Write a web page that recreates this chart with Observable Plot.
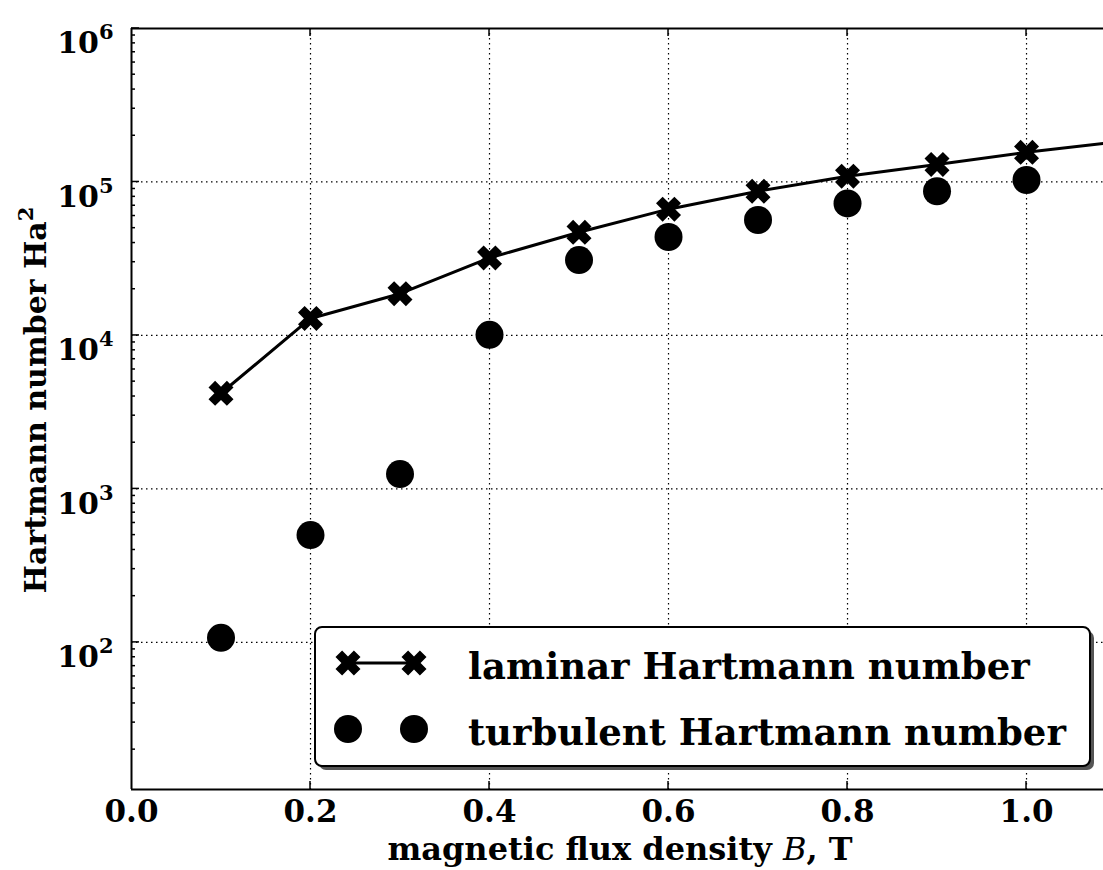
<!DOCTYPE html>
<html>
<head>
<meta charset="utf-8">
<script src="https://cdn.jsdelivr.net/npm/d3@7"></script>
<script src="https://cdn.jsdelivr.net/npm/@observablehq/plot@0.6"></script>
<style>
  html, body { margin: 0; padding: 0; background: #fff; }
  #chart svg { display: block; }
</style>
</head>
<body>
<div id="chart"></div>
<script>
// ---- data ----
const bLaminar  = [0.1, 0.2, 0.3, 0.4, 0.5, 0.6, 0.7, 0.8, 0.9, 1.0, 1.1];
const haLaminar = [4200, 12900, 18700, 32000, 47000, 66500, 87000, 109000, 130000, 156000, 182000];
const bTurbulent  = [0.1, 0.2, 0.3, 0.4, 0.5, 0.6, 0.7, 0.8, 0.9, 1.0];
const haTurbulent = [107, 500, 1250, 10100, 31000, 43800, 56500, 72500, 87000, 103000];
const xTicks = [0.0, 0.2, 0.4, 0.6, 0.8, 1.0];
const yTicks = [1e2, 1e3, 1e4, 1e5, 1e6];
const legendLabels = ["laminar Hartmann number", "turbulent Hartmann number"];
const xLabelParts = ["magnetic flux density ", "B", ", T"];
const yLabelParts = ["Hartmann number Ha", "2"];

const laminar = bLaminar.map((b, i) => ({b, ha: haLaminar[i]}));
const turbulent = bTurbulent.map((b, i) => ({b, ha: haTurbulent[i]}));

const FONT = "DejaVu Serif";

// filled "X" marker (a plus rotated by 45 degrees)
const xFilled = {
  draw(ctx, size) {
    const r = Math.sqrt(size / Math.PI), L = r, w = r * 0.36;
    const pts = [[w,-L],[w,-w],[L,-w],[L,w],[w,w],[w,L],[-w,L],[-w,w],[-L,w],[-L,-w],[-w,-w],[-w,-L]]
      .map(([x, y]) => [(x - y) / Math.SQRT2, (x + y) / Math.SQRT2]);
    ctx.moveTo(pts[0][0], pts[0][1]);
    for (let i = 1; i < pts.length; i++) ctx.lineTo(pts[i][0], pts[i][1]);
    ctx.closePath();
  }
};

const grid = {stroke: "#000", strokeWidth: 1.2, strokeDasharray: "1.5,3.5", strokeOpacity: 1};

const chart = Plot.plot({
  width: 1103,
  height: 870,
  marginLeft: 131,
  marginRight: 0,
  marginTop: 28,
  marginBottom: 81,
  style: {fontFamily: FONT, background: "#fff", color: "#000", overflow: "visible"},
  x: {domain: [0, 1.086], ticks: xTicks},
  y: {type: "log", domain: [11, 1e6], ticks: yTicks},
  marks: [
    Plot.ruleX(xTicks.slice(1), {x: d => d, ...grid}),
    Plot.ruleY(yTicks.slice(0, -1), {y: d => d, ...grid}),
    Plot.ruleX([0], {stroke: "#000", strokeWidth: 2}),
    Plot.ruleY([11], {stroke: "#000", strokeWidth: 2}),
    Plot.ruleY([1e6], {stroke: "#000", strokeWidth: 2}),
    Plot.axisX(xTicks, {
      tickSize: 0, tickPadding: 10, label: null,
      tickFormat: d => d.toFixed(1),
      fontSize: 31, fontWeight: "bold", fontFamily: FONT
    }),
    Plot.axisY(yTicks, {
      tickSize: 0, tickPadding: 18, label: null,
      tickFormat: d => "10^" + Math.round(Math.log10(d)),
      fontSize: 30, fontWeight: "bold", fontFamily: FONT
    }),
    Plot.line(laminar, {x: "b", y: "ha", stroke: "#000", strokeWidth: 3, clip: true}),
    Plot.dot(laminar, {x: "b", y: "ha", symbol: xFilled, r: 13, fill: "#000", stroke: "none", clip: true}),
    Plot.dot(turbulent, {x: "b", y: "ha", symbol: "circle", r: 14, fill: "#000", stroke: "none", clip: true})
  ]
});

document.getElementById("chart").appendChild(chart);

const svg = d3.select(chart);
const xs = chart.scale("x"), ys = chart.scale("y");
const [x0, x1] = xs.range, [y0, y1] = ys.range; // y0 bottom, y1 top

// superscript exponents on y tick labels
svg.selectAll("g[aria-label='y-axis tick label'] text").each(function() {
  const t = d3.select(this);
  const exp = t.text().split("^")[1];
  t.text(null).attr("dy", null);
  t.append("tspan").attr("dy", 15).text("10");
  t.append("tspan").attr("dy", -14).attr("font-size", 21).text(exp);
});

// inward ticks
const tickG = svg.append("g").attr("stroke", "#000").attr("stroke-width", 1.5);
for (const v of xTicks.slice(1)) {
  const px = xs.apply(v);
  tickG.append("line").attr("x1", px).attr("x2", px).attr("y1", y0).attr("y2", y0 - 8);
  tickG.append("line").attr("x1", px).attr("x2", px).attr("y1", y1).attr("y2", y1 + 8);
}
for (const v of yTicks) {
  const py = ys.apply(v);
  tickG.append("line").attr("x1", x0).attr("x2", x0 + 8).attr("y1", py).attr("y2", py);
}
for (let e = 1; e < 6; e++) {
  for (let m = 2; m <= 9; m++) {
    const v = m * Math.pow(10, e);
    if (v < 11 || v > 1e6) continue;
    const py = ys.apply(v);
    tickG.append("line").attr("x1", x0).attr("x2", x0 + 4).attr("y1", py).attr("y2", py);
  }
}

// axis labels
const xl = svg.append("text")
  .attr("x", 620).attr("y", 860)
  .attr("text-anchor", "middle")
  .attr("font-family", FONT).attr("font-weight", "bold").attr("font-size", 32);
xl.append("tspan").text(xLabelParts[0]);
xl.append("tspan").attr("font-style", "italic").attr("font-weight", "normal").text(xLabelParts[1]);
xl.append("tspan").text(xLabelParts[2]);

const yl = svg.append("text")
  .attr("transform", `translate(46,400) rotate(-90)`)
  .attr("text-anchor", "middle")
  .attr("font-family", FONT).attr("font-weight", "bold").attr("font-size", 30);
yl.append("tspan").text(yLabelParts[0]);
yl.append("tspan").attr("dy", -13).attr("font-size", 21).text(yLabelParts[1]);

// legend
const lg = svg.append("g");
const bx = 315, by = 627, bw = 775, bh = 139;
lg.append("rect").attr("x", bx + 4).attr("y", by + 4).attr("width", bw).attr("height", bh)
  .attr("rx", 7).attr("fill", "#555");
lg.append("rect").attr("x", bx).attr("y", by).attr("width", bw).attr("height", bh)
  .attr("rx", 7).attr("fill", "#fff").attr("stroke", "#000").attr("stroke-width", 2);
const rowY = [663, 729];
const mx = [348, 414];
lg.append("line").attr("x1", mx[0]).attr("x2", mx[1]).attr("y1", rowY[0]).attr("y2", rowY[0])
  .attr("stroke", "#000").attr("stroke-width", 3);
const xPath = d3.symbol(xFilled, 13 * 13 * Math.PI)();
for (const m of mx) {
  lg.append("path").attr("d", xPath).attr("transform", `translate(${m},${rowY[0]})`).attr("fill", "#000");
  lg.append("circle").attr("cx", m).attr("cy", rowY[1]).attr("r", 14).attr("fill", "#000");
}
legendLabels.forEach((s, i) => {
  lg.append("text").attr("x", 468).attr("y", rowY[i] + 16)
    .attr("text-anchor", "start")
    .attr("font-family", FONT).attr("font-weight", "bold").attr("font-size", 37).text(s);
});
</script>
</body>
</html>
